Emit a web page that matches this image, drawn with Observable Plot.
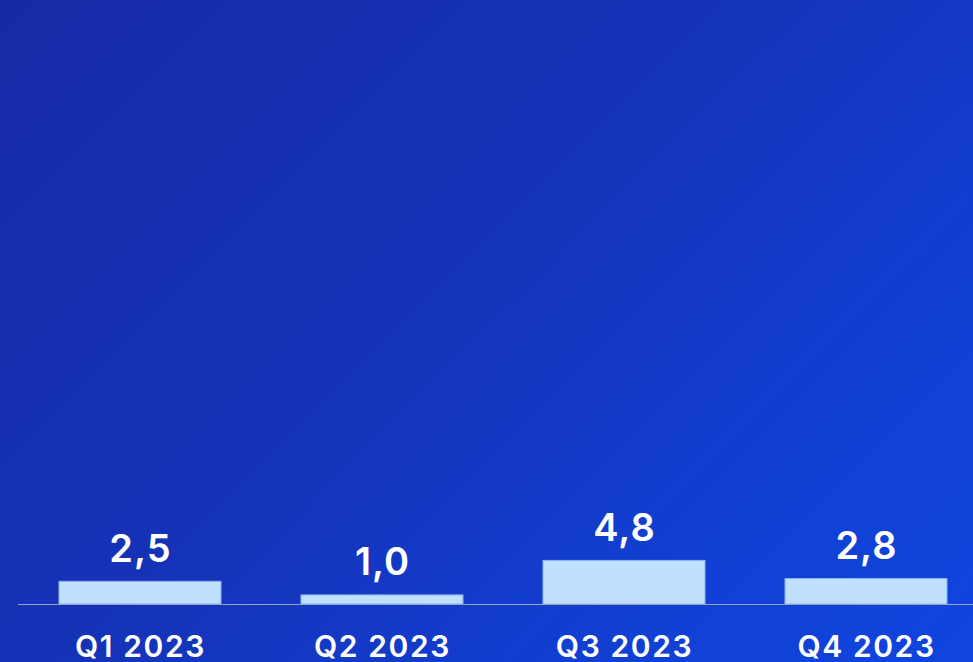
<!DOCTYPE html>
<html>
<head>
<meta charset="utf-8">
<script src="https://cdn.jsdelivr.net/npm/d3@7"></script>
<script src="https://cdn.jsdelivr.net/npm/@observablehq/plot@0.6"></script>
<style>
  html, body { margin: 0; padding: 0; width: 973px; height: 662px; overflow: hidden; }
  body { background: linear-gradient(135deg, #162aa6 0%, #1533b8 45%, #123fd2 75%, #0f45de 100%); font-family: Inter, "Open Sans", sans-serif; }
  #chart svg { display: block; }
  #chart g[aria-label="x-axis tick label"] text { letter-spacing: 1.6px; }
  #chart g[aria-label="text"] text { letter-spacing: 1px; }
</style>
</head>
<body>
<div id="chart"></div>
<script>
const quarters = ["Q1 2023", "Q2 2023", "Q3 2023", "Q4 2023"];
const values = [2.5, 1.0, 4.8, 2.8];
const labels = ["2,5", "1,0", "4,8", "2,8"];

const data = quarters.map((q, i) => ({quarter: q, value: values[i], label: labels[i]}));

const plot = Plot.plot({
  width: 973,
  height: 662,
  marginLeft: 18,
  marginRight: 0,
  marginTop: 0,
  marginBottom: 58,
  style: {background: "transparent", color: "#ffffff", fontFamily: "Inter, sans-serif", overflow: "visible"},
  x: {domain: quarters, range: [18, 988], paddingInner: 0.33, paddingOuter: 0.165, label: null},
  y: {domain: [0, 66.5], axis: null},
  marks: [
    Plot.barY(data, {x: "quarter", y: "value", fill: "#bfe0ff", stroke: "#8fb2ee", strokeWidth: 1}),
    Plot.ruleY([0], {stroke: "#9aa3c4", strokeWidth: 1.2}),
    Plot.text(data, {x: "quarter", y: "value", text: "label", lineAnchor: "bottom", dy: -20, fill: "#ffffff", fontSize: 38, fontWeight: 600}),
    Plot.axisX({tickSize: 0, tickPadding: 31, fontSize: 30, fontWeight: 600, fill: "#ffffff", label: null})
  ]
});
document.getElementById("chart").appendChild(plot);
</script>
</body>
</html>
